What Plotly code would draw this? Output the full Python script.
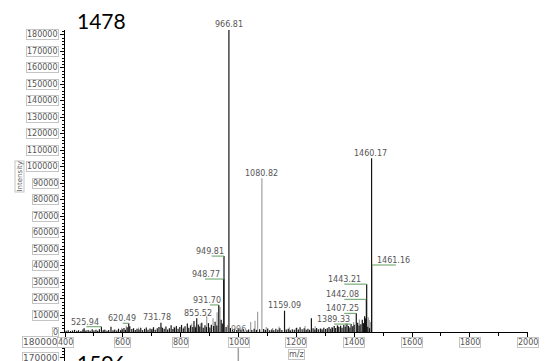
import plotly.graph_objects as go

# The page puts the figure at an 8 px body offset, so the figure is 8 px smaller than the window.
WIN_W, WIN_H, OFF = 551, 361, 8
W, H = WIN_W - OFF, WIN_H - OFF

# ---------------- data: spectrum "1478" ----------------
label_mz = [966.81, 1080.82, 1460.17, 1461.16, 949.81, 948.77, 931.70, 855.52,
            731.78, 620.49, 525.94, 1159.09, 1389.33, 1407.25, 1442.08, 1443.21]
label_int = [183000, 93100, 105300, 40600, 46000, 32100, 16400, 8300,
             5600, 5300, 3200, 12900, 4800, 11300, 19800, 29000]

dark_mz = [404, 411, 419, 426, 433, 441, 447, 455, 462, 466, 473, 480, 487, 494, 500, 507, 513, 519,
           532, 538, 545, 551, 559, 566, 572, 579, 585, 592, 598, 604, 609, 615, 624, 631, 637, 643,
           649, 656, 662, 668, 675, 681, 687, 694, 700, 706, 712, 719, 725, 737, 743, 749, 755, 761,
           767, 773, 779, 785, 791, 797, 803, 809, 815, 823, 828, 834, 842, 846, 851, 861, 866, 873,
           878, 884, 889, 896, 901, 906, 914, 919, 925, 940, 944, 957, 972, 979, 986, 994, 1001, 1008,
           1017, 1029, 1035, 1046, 1054, 1062, 1073, 1087, 1093, 1101, 1108, 1115, 1122, 1129, 1136,
           1143, 1150, 1165, 1172, 1179, 1186, 1193, 1201, 1207, 1213, 1220, 1227, 1234, 1240, 1246,
           1252, 1258, 1264, 1270, 1276, 1283, 1289, 1295, 1301, 1307, 1313, 1319, 1325, 1331, 1336,
           1342, 1347, 1353, 1358, 1364, 1369, 1375, 1380, 1385, 1395, 1400, 1412, 1417, 1423, 1428,
           1432, 1436, 1439, 1447, 1453]
dark_int = [700, 1100, 600, 900, 1300, 800, 1000, 600, 1500, 2200, 900, 1200, 700, 1600, 900, 1300, 700, 1700,
            1100, 1400, 800, 1200, 3200, 1000, 1500, 900, 2000, 1100, 1600, 2400, 1300, 2900, 3500, 1800, 2300, 1200,
            2000, 1500, 2600, 1100, 1900, 2700, 1300, 2100, 1600, 2900, 1400, 2300, 3100, 2600, 1900, 3400, 1500, 2200,
            4100, 1800, 2700, 3600, 2000, 3000, 4300, 2100, 3500, 5200, 2600, 4000, 3100, 6600, 2800, 4600, 3300, 5600,
            2500, 4100, 3000, 5400, 2700, 4400, 3600, 6200, 4000, 7400, 5200, 3000, 2400, 1500, 1900, 1200, 2100, 1300,
            1700, 1100, 1500, 1200, 1900, 1300, 1600, 1800, 1200, 2100, 1000, 1500, 1100, 2000, 1400,
            2300, 1200, 1500, 2000, 1100, 1700, 1300, 2500, 1500, 2900, 1600, 2200, 1400, 1900, 1300,
            8300, 2200, 1500, 2400, 1700, 2100, 1500, 2600, 1800, 2300, 3100, 2000, 2700, 3600, 2400,
            4000, 3000, 3800, 2600, 4300, 3200, 5000, 3700, 2700, 3500, 4400, 5600, 3900, 4700, 7400,
            5400, 9600, 8200, 3200, 2300]

gray_mz = [470, 535, 596, 612, 654, 702, 733, 776, 810, 838, 850, 868, 890, 912, 926, 936, 962, 998,
           1012, 1042, 1057, 1066, 1096, 1118, 1140, 1176, 1198, 1230, 1265, 1288, 1322, 1345, 1371,
           1398, 1418, 1449, 1452, 1456]
gray_int = [900, 1500, 2500, 3800, 2700, 2000, 3000, 3200, 2800, 5000, 3800, 5100, 9600, 8300, 12000, 15300, 4200, 2600,
            2000, 6000, 6800, 12300, 3000, 2400, 3300, 2800, 2200, 3600, 3500, 2000, 3000, 3700, 5200,
            6000, 7500, 9000, 7200, 6000]

# ---------------- data: spectrum "1506" (only its top edge is visible) ----------------
p2_mz = [999.3]
p2_int = [176500]

# ---------------- ticks / titles ----------------
ytick_vals = list(range(0, 180001, 10000))
xtick_vals = [400, 600, 800, 1000, 1200, 1400, 1600, 1800, 2000]
y2tick_vals = [170000, 180000]
title1, title2 = "1478", "1506"
x_title, y_title = "m/z", "Intensity"
partial_label = "996"

# ---------------- styles (kept separate from data) ----------------
DARK, GRAY, GREEN = "#151515", "#a0a0a0", "#5f9f5f"
BOX = "#c4c4c4"
TXT = "#555555"
FONT = "DejaVu Sans"
label_gray = [False, True, False, True] + [False] * 12
# text-centre offset from the peak (px) and start of the green leader (px, None = no leader)
label_dx = [0, 0, -1, 22, -14.5, -17.7, -12, 1, -3.5, -7, -16, 0, -18, -13.5, -23.6, -22.4]
label_lead = [None, None, None, 24, -12.3, -18.7, -8.7, None, None, -6, -15, None, -17, -12, -22, -22.4]


def px(x):
    """window pixel x -> paper fraction"""
    return (x - OFF) / W


def py(y):
    """window pixel y -> paper fraction"""
    return 1 - (y - OFF) / H


def sticks(mz, inten):
    xs, ys = [], []
    for m, v in zip(mz, inten):
        xs += [m, m, None]
        ys += [0, v, None]
    return xs, ys


fig = go.Figure()

gx, gy = sticks(gray_mz + [m for m, g in zip(label_mz, label_gray) if g],
                gray_int + [v for v, g in zip(label_int, label_gray) if g])
dx_, dy_ = sticks(dark_mz + [m for m, g in zip(label_mz, label_gray) if not g],
                  dark_int + [v for v, g in zip(label_int, label_gray) if not g])
fig.add_trace(go.Scatter(x=gx, y=gy, mode="lines", line=dict(color=GRAY, width=1.2),
                         hoverinfo="skip", showlegend=False))
fig.add_trace(go.Scatter(x=dx_, y=dy_, mode="lines", line=dict(color=DARK, width=1.2),
                         hoverinfo="skip", showlegend=False))
p2x, p2y = sticks(p2_mz, p2_int)
fig.add_trace(go.Scatter(x=p2x, y=p2y, mode="lines", line=dict(color=GRAY, width=1.5),
                         hoverinfo="skip", showlegend=False, xaxis="x2", yaxis="y2"))

ann = []
shapes = []
# peak labels + green leaders
for m, v, dx, lead in zip(label_mz, label_int, label_dx, label_lead):
    ann.append(dict(x=m, y=v, xref="x", yref="y", text=f"{m:.2f}", showarrow=False,
                    xshift=dx, yshift=(5 if lead is None else 4.5),
                    xanchor="center", yanchor="middle",
                    font=dict(family=FONT, size=8, color=TXT)))
    if lead is not None:
        shapes.append(dict(type="line", xref="x", yref="y", xsizemode="pixel", xanchor=m,
                           x0=lead, x1=0, y0=v, y1=v, line=dict(color=GREEN, width=1)))

box = dict(showarrow=False, bordercolor=BOX, borderwidth=1, borderpad=0, bgcolor="white")
# boxed y tick labels, panel 1
for v in ytick_vals:
    ann.append(dict(x=px(58.5), y=v, xref="paper", yref="y", text=f"{v}",
                    xanchor="right", yanchor="middle", font=dict(family=FONT, size=8, color=TXT), **box))
# boxed y tick labels, panel 2
for v in y2tick_vals:
    ann.append(dict(x=px(58.5), y=v, xref="paper", yref="y2", text=f"{v}",
                    xanchor="right", yanchor="middle", font=dict(family=FONT, size=9, color=TXT), **box))
# boxed x tick labels
for v in xtick_vals:
    ann.append(dict(x=v, y=py(342.5), xref="x", yref="paper", text=f"{v}",
                    xanchor="center", yanchor="middle", font=dict(family=FONT, size=8, color=TXT), **box))
# axis titles
ann.append(dict(x=px(296), y=py(354), xref="paper", yref="paper", text=x_title,
                xanchor="center", yanchor="middle", font=dict(family=FONT, size=8, color=TXT), **box))
ann.append(dict(x=px(19), y=py(176.5), xref="paper", yref="paper", text=y_title, textangle=-90,
                xanchor="center", yanchor="middle", font=dict(family=FONT, size=7, color=TXT), **box))
ann.append(dict(x=px(238.5), y=py(329), xref="paper", yref="paper", text=partial_label, showarrow=False,
                xanchor="center", yanchor="middle", font=dict(family=FONT, size=8, color="#777")))
# spectrum titles
ann.append(dict(x=px(101.5), y=py(20.5), xref="paper", yref="paper", text=title1, showarrow=False,
                xanchor="center", yanchor="middle", font=dict(family="Lato", size=21, color="black")))
ann.append(dict(x=px(101.5), y=py(348), xref="paper", yref="paper", text=title2, showarrow=False,
                xanchor="center", yanchor="top", font=dict(family="Lato", size=21, color="black")))

axis_common = dict(showgrid=False, zeroline=False, showline=True, linecolor="black", linewidth=1,
                   ticks="outside", tickcolor="black", tickwidth=1, showticklabels=False, fixedrange=True)

fig.update_layout(
    width=W, height=H,
    margin=dict(l=0, r=0, t=0, b=0),
    paper_bgcolor="white", plot_bgcolor="white",
    showlegend=False,
    xaxis=dict(domain=[px(65), px(527.7)], range=[400, 2000], anchor="y",
               tick0=400, dtick=200, ticklen=5,
               minor=dict(dtick=100, ticklen=3, ticks="outside", tickcolor="black"),
               **axis_common),
    yaxis=dict(domain=[py(332), py(30)], range=[0, 183000], anchor="x",
               tick0=0, dtick=10000, ticklen=4,
               minor=dict(dtick=2000, ticklen=2, ticks="outside", tickcolor="black"),
               **axis_common),
    xaxis2=dict(domain=[px(65), px(527.7)], range=[400, 2000], anchor="y2", visible=False),
    yaxis2=dict(domain=[0, py(340)], range=[168000, 180970], anchor="x2",
                tick0=0, dtick=10000, ticklen=4,
                minor=dict(dtick=2000, ticklen=2, ticks="outside", tickcolor="black"),
                **axis_common),
    annotations=ann,
    shapes=shapes,
)

fig.write_html("out.html")
